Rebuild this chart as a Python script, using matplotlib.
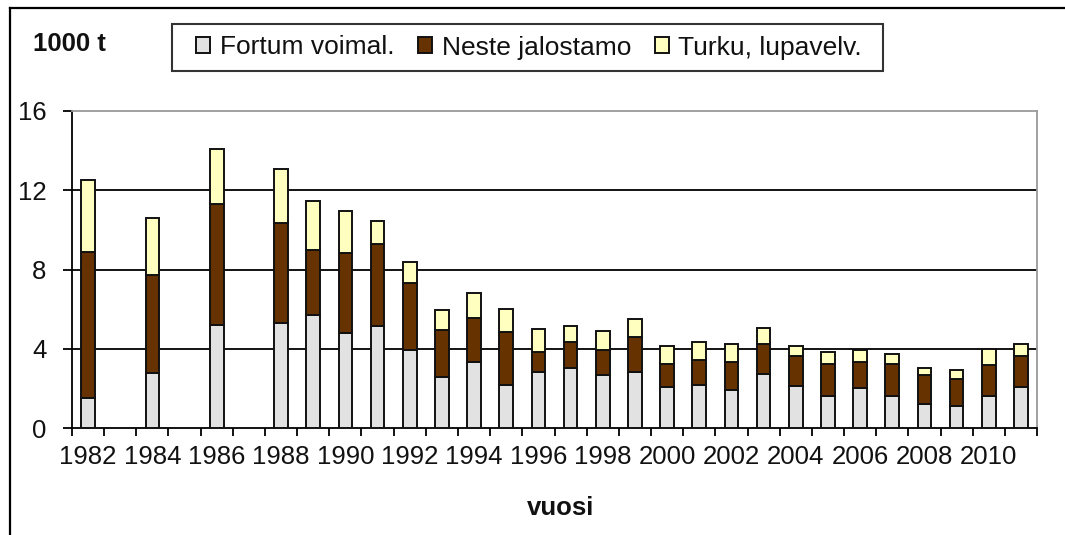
import matplotlib.pyplot as plt
from matplotlib.lines import Line2D
from matplotlib.patches import Rectangle
import numpy as np

plt.rcParams['font.family'] = ['Liberation Sans', 'DejaVu Sans']

years = [1982, 1984, 1986, 1988, 1989, 1990, 1991, 1992, 1993, 1994, 1995,
         1996, 1997, 1998, 1999, 2000, 2001, 2002, 2003, 2004, 2005, 2006,
         2007, 2008, 2009, 2010, 2011]
fortum = [1.5, 2.8, 5.2, 5.3, 5.7, 4.8, 5.15, 3.95, 2.55, 3.35, 2.15,
          2.85, 3.05, 2.65, 2.85, 2.05, 2.15, 1.9, 2.75, 2.1, 1.6, 2.0,
          1.6, 1.2, 1.1, 1.6, 2.05]
neste = [7.4, 4.9, 6.1, 5.05, 3.3, 4.05, 4.15, 3.35, 2.4, 2.2, 2.7,
         1.0, 1.3, 1.3, 1.75, 1.2, 1.3, 1.45, 1.5, 1.55, 1.65, 1.35,
         1.65, 1.45, 1.35, 1.6, 1.6]
turku = [3.6, 2.9, 2.8, 2.7, 2.45, 2.1, 1.15, 1.1, 1.0, 1.25, 1.15,
         1.15, 0.8, 0.95, 0.9, 0.9, 0.9, 0.9, 0.8, 0.5, 0.6, 0.6,
         0.5, 0.4, 0.5, 0.8, 0.6]
labels = ['Fortum voimal.', 'Neste jalostamo', 'Turku, lupavelv.']
first_year, last_year = 1982, 2011

fortum = np.array(fortum)
neste = np.array(neste)
turku = np.array(turku)
x = np.array(years) - first_year
n_cat = last_year - first_year + 1

W, H = 1065, 535
fig = plt.figure(figsize=(W / 100, H / 100), dpi=100)
ax = fig.add_axes([72 / W, 1 - 428 / H, (1037 - 72) / W, (428 - 111) / H])

bw = 0.42
kw = dict(width=bw, edgecolor='#111111', linewidth=1.4, zorder=3)
ax.bar(x, fortum, color='#e2e2e2', label=labels[0], **kw)
ax.bar(x, neste, bottom=fortum, color='#663300', label=labels[1], **kw)
ax.bar(x, turku, bottom=fortum + neste, color='#ffffc0', label=labels[2], **kw)

ax.set_xlim(-0.5, n_cat - 0.5)
ax.set_ylim(0, 16)
ax.set_yticks([0, 4, 8, 12, 16])
for yv in [4, 8, 12]:
    ax.axhline(yv, color='black', lw=1.3, zorder=1)

# ticks at category boundaries, labels every other year
ax.set_xticks(np.arange(n_cat + 1) - 0.5)
ax.set_xticklabels([])
ax.set_xticks(np.arange(0, n_cat, 2), minor=True)
ax.set_xticklabels([str(first_year + i) for i in range(0, n_cat, 2)], minor=True)
ax.tick_params(axis='x', which='major', direction='out', length=6, width=1.3, color='black')
ax.tick_params(axis='x', which='minor', length=0, pad=12, labelsize=18.5, labelcolor='#111111')
ax.tick_params(axis='y', direction='out', length=6.5, width=1.3, pad=12,
               labelsize=18.5, labelcolor='#111111')

for s in ['left', 'bottom']:
    ax.spines[s].set_color('black')
    ax.spines[s].set_linewidth(1.3)
for s in ['top', 'right']:
    ax.spines[s].set_color('#9a9a9a')
    ax.spines[s].set_linewidth(1.3)

fig.text(33 / W, 1 - 44 / H, '1000 t', fontsize=18.5, fontweight='bold',
         ha='left', va='center', color='#111111')
fig.text(561 / W, 1 - 508 / H, 'vuosi', fontsize=18.5, fontweight='bold',
         ha='center', va='center', color='#111111')

# legend box drawn separately, entries centered inside it
fig.add_artist(Rectangle((172 / W, 1 - 71 / H), (883 - 172) / W, (71 - 24) / H,
                         transform=fig.transFigure, facecolor='white',
                         edgecolor='#333333', lw=1.5, zorder=0))
leg = fig.legend(loc='center', bbox_to_anchor=(529 / W, 1 - 47.5 / H),
                 ncol=3, fontsize=19, frameon=False,
                 handlelength=0.55, handleheight=0.55, handletextpad=0.35,
                 columnspacing=0.9, borderpad=0, borderaxespad=0)
for t in leg.get_texts():
    t.set_color('#111111')

# outer chart frame (only top and left visible)
fig.add_artist(Line2D([10 / W, 10 / W], [0, 1 - 8 / H], transform=fig.transFigure,
                      color='black', lw=1.6))
fig.add_artist(Line2D([10 / W, 1], [1 - 8 / H, 1 - 8 / H], transform=fig.transFigure,
                      color='black', lw=1.6))

fig.savefig('out.png', dpi=100)
